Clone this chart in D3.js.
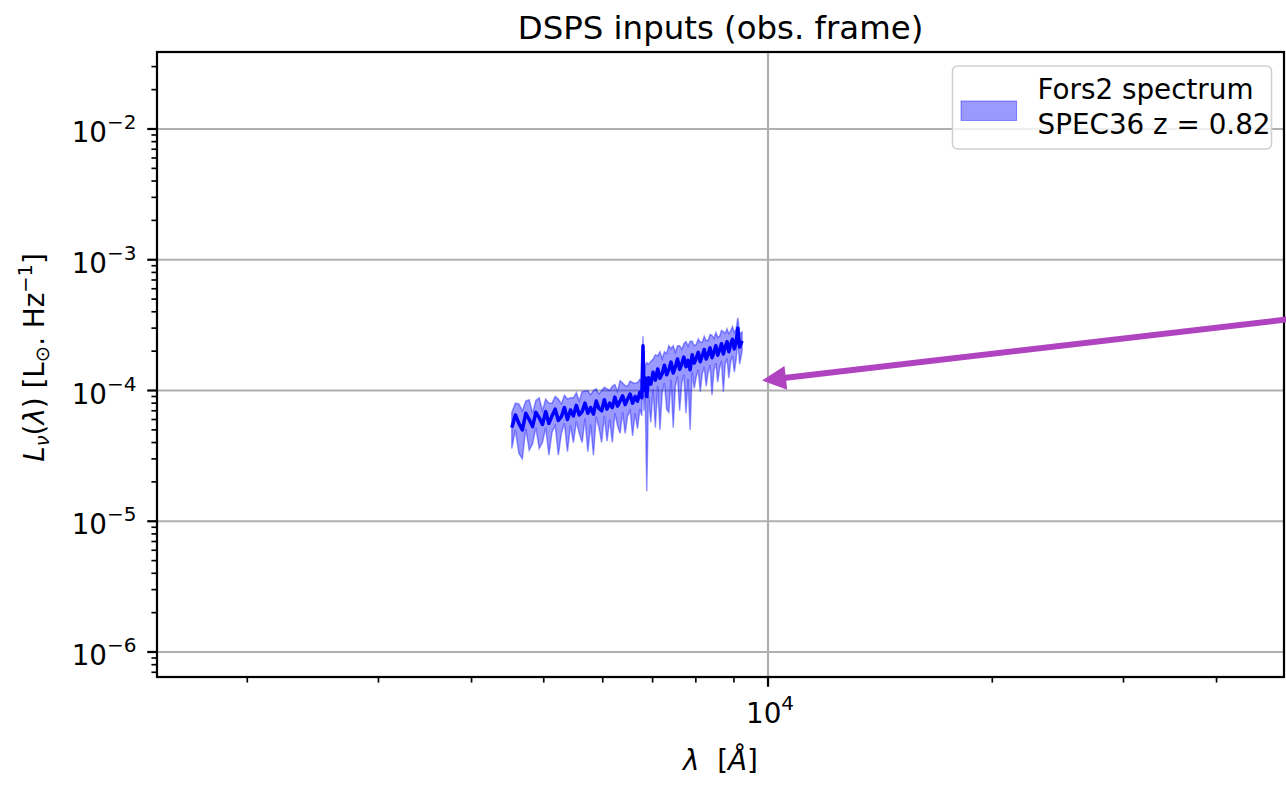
<!DOCTYPE html>
<html>
<head>
<meta charset="utf-8">
<script src="https://cdn.jsdelivr.net/npm/d3@7"></script>
<style>
  body { margin: 0; background: #fff; }
  svg { display: block; font-family: "DejaVu Sans", sans-serif; }
</style>
</head>
<body>
<div id="chart"></div>
<script>
// Fors2 spectrum (obs. frame), wavelength in Angstrom
const wavelengths = [
    4530, 4580, 4630, 4680, 4730, 4780, 4830, 4880, 4930, 4980,
    5030, 5080, 5130, 5180, 5230, 5280, 5330, 5380, 5430, 5480,
    5530, 5580, 5630, 5680, 5730, 5780, 5830, 5880, 5930, 5980,
    6030, 6080, 6130, 6180, 6230, 6280, 6330, 6380, 6430, 6480,
    6530, 6580, 6630, 6680, 6730, 6770, 6795, 6815, 6840, 6875,
    6910, 6960, 7010, 7060, 7110, 7160, 7210, 7260, 7310, 7360,
    7410, 7460, 7510, 7560, 7610, 7660, 7710, 7760, 7810, 7860,
    7910, 7960, 8010, 8060, 8110, 8160, 8210, 8260, 8310, 8360,
    8410, 8460, 8510, 8560, 8610, 8660, 8710, 8760, 8810, 8860,
    8910, 8960, 9010, 9060, 9110, 9160, 9230
];

// flux and 1-sigma, in units of 1e-5 Lsun/Hz
const fluxE5 = [
    5.2, 6.5, 5.6, 5.0, 6.7, 6.0, 5.3, 6.8, 6.2, 5.5,
    6.9, 5.6, 6.4, 7.2, 5.9, 6.3, 7.4, 6.0, 7.1, 6.4,
    7.7, 6.5, 6.9, 8.0, 6.7, 7.4, 6.6, 8.3, 7.3, 7.0,
    8.5, 7.2, 8.0, 7.4, 8.9, 7.6, 8.3, 9.1, 7.8, 8.6,
    9.4, 8.0, 9.0, 8.3, 9.7, 8.8, 22.0, 10.0, 12.5, 9.0,
    12.5, 11.2, 13.8, 12.0, 14.6, 12.4, 13.5, 15.6, 13.2, 14.4,
    16.5, 13.6, 15.2, 17.4, 14.5, 16.0, 18.0, 15.2, 17.0, 14.4,
    18.8, 16.2, 17.6, 19.6, 16.6, 18.4, 20.6, 17.4, 19.0, 21.2,
    17.8, 19.6, 22.0, 18.6, 20.4, 22.8, 19.0, 21.6, 23.6, 19.8,
    22.6, 24.6, 20.8, 23.4, 30.0, 21.5, 24.0
];

const sigmaE5 = [
    1.6, 1.5, 2.3, 2.0, 1.6, 2.5, 1.4, 1.6, 2.6, 1.5,
    1.7, 2.4, 1.6, 1.8, 2.7, 1.6, 1.8, 2.6, 1.7, 2.4,
    1.9, 1.8, 2.9, 1.9, 3.3, 1.9, 3.4, 2.0, 2.1, 3.0,
    2.1, 3.1, 2.0, 3.4, 2.2, 2.2, 3.6, 2.3, 3.1, 2.2,
    2.4, 3.5, 2.3, 3.2, 2.5, 2.4, 4.0, 3.0, 3.0, 7.3,
    3.4, 5.5, 3.6, 6.8, 3.8, 7.4, 4.0, 4.2, 6.0, 7.6,
    4.4, 8.4, 4.4, 4.6, 7.5, 4.6, 4.8, 8.5, 4.8, 9.4,
    5.0, 5.8, 4.9, 5.2, 6.8, 5.0, 5.4, 6.6, 5.2, 5.6,
    8.6, 5.4, 5.8, 7.0, 5.6, 6.0, 9.2, 5.8, 6.0, 7.4,
    6.0, 6.2, 7.0, 6.2, 6.0, 5.6, 4.0
];

const xDomain = [1513, 49270];
const yDomain = [6.44e-7, 3.88e-2];
const xMajorTicks = [1e4];
const yMajorTicks = [1e-6, 1e-5, 1e-4, 1e-3, 1e-2];

const legendLines = ['Fors2 spectrum', 'SPEC36 z = 0.82'];

// annotation arrow (data coords), tail runs off the right of the figure
const arrowFrom = [51800, 3.59e-4];
const arrowTo = [9816, 1.19e-4];

const margin = { top: 52, right: 2, bottom: 109, left: 157 };
const totalW = 1286, totalH = 786;
const width = totalW - margin.left - margin.right;
const height = totalH - margin.top - margin.bottom;

const pt = 2.78; // px per point
const fs = 10 * pt;

const data = wavelengths.map((wl, i) => ({
    wl: wl,
    flux: fluxE5[i] * 1e-5,
    lo: (fluxE5[i] - sigmaE5[i]) * 1e-5,
    hi: (fluxE5[i] + sigmaE5[i]) * 1e-5
}));

const svg = d3.select('#chart').append('svg')
    .attr('width', totalW)
    .attr('height', totalH);

const g = svg.append('g')
    .attr('transform', `translate(${margin.left},${margin.top})`);

const x = d3.scaleLog().domain(xDomain).range([0, width]);
const y = d3.scaleLog().domain(yDomain).range([height, 0]);

g.append('clipPath').attr('id', 'clip')
    .append('rect').attr('width', width).attr('height', height);

// grid (major only)
g.append('g').selectAll('line')
    .data(xMajorTicks)
    .enter().append('line')
    .attr('x1', d => x(d)).attr('x2', d => x(d))
    .attr('y1', 0).attr('y2', height)
    .attr('stroke', '#b0b0b0').attr('stroke-width', 0.8 * pt);

g.append('g').selectAll('line')
    .data(yMajorTicks)
    .enter().append('line')
    .attr('x1', 0).attr('x2', width)
    .attr('y1', d => y(d)).attr('y2', d => y(d))
    .attr('stroke', '#b0b0b0').attr('stroke-width', 0.8 * pt);

// spectrum band + line
const plot = g.append('g').attr('clip-path', 'url(#clip)');

const area = d3.area()
    .x(d => x(d.wl))
    .y0(d => y(Math.max(d.lo, 1e-9)))
    .y1(d => y(d.hi));

plot.append('path')
    .datum(data)
    .attr('d', area)
    .attr('fill', 'rgba(0,0,255,0.4)')
    .attr('stroke', 'rgba(0,0,255,0.4)')
    .attr('stroke-width', 1.5);

const line = d3.line()
    .x(d => x(d.wl))
    .y(d => y(d.flux));

plot.append('path')
    .datum(data)
    .attr('d', line)
    .attr('fill', 'none')
    .attr('stroke', '#0000ff')
    .attr('stroke-width', 3.5)
    .attr('stroke-linejoin', 'round');

// spines
g.append('rect')
    .attr('width', width).attr('height', height)
    .attr('fill', 'none')
    .attr('stroke', '#000').attr('stroke-width', 0.8 * pt);

// ticks
const xMinor = x.ticks().filter(t => !xMajorTicks.includes(t));
const yMinor = y.ticks().filter(t => !yMajorTicks.some(m => Math.abs(m - t) / m < 1e-6));

g.append('g').selectAll('line')
    .data(xMinor)
    .enter().append('line')
    .attr('x1', d => x(d)).attr('x2', d => x(d))
    .attr('y1', height).attr('y2', height + 2 * pt)
    .attr('stroke', '#000').attr('stroke-width', 0.6 * pt);

g.append('g').selectAll('line')
    .data(xMajorTicks)
    .enter().append('line')
    .attr('x1', d => x(d)).attr('x2', d => x(d))
    .attr('y1', height).attr('y2', height + 3.5 * pt)
    .attr('stroke', '#000').attr('stroke-width', 0.8 * pt);

g.append('g').selectAll('line')
    .data(yMinor)
    .enter().append('line')
    .attr('x1', 0).attr('x2', -2 * pt)
    .attr('y1', d => y(d)).attr('y2', d => y(d))
    .attr('stroke', '#000').attr('stroke-width', 0.6 * pt);

g.append('g').selectAll('line')
    .data(yMajorTicks)
    .enter().append('line')
    .attr('x1', 0).attr('x2', -3.5 * pt)
    .attr('y1', d => y(d)).attr('y2', d => y(d))
    .attr('stroke', '#000').attr('stroke-width', 0.8 * pt);

// power-of-ten labels: "10" with a raised exponent
function powerLabel(sel, v) {
    const e = Math.round(Math.log10(v));
    sel.append('tspan').text('10');
    sel.append('tspan')
        .attr('font-size', fs * 0.72)
        .attr('dy', -0.46 * fs)
        .text(String(e).replace('-', '\u2212'));
}

g.append('g').selectAll('text')
    .data(yMajorTicks)
    .enter().append('text')
    .attr('x', -7 * pt - 1)
    .attr('y', d => y(d) + 13)
    .attr('text-anchor', 'end')
    .attr('font-size', fs)
    .attr('fill', '#000')
    .each(function (d) { powerLabel(d3.select(this), d); });

g.append('g').selectAll('text')
    .data(xMajorTicks)
    .enter().append('text')
    .attr('x', d => x(d) + 2)
    .attr('y', height + 46)
    .attr('text-anchor', 'middle')
    .attr('font-size', fs)
    .attr('fill', '#000')
    .each(function (d) { powerLabel(d3.select(this), d); });

// title
svg.append('text')
    .attr('x', margin.left + width / 2)
    .attr('y', 38.5)
    .attr('text-anchor', 'middle')
    .attr('font-size', 32.4)
    .text('DSPS inputs (obs. frame)');

// x label
const xl = svg.append('text')
    .attr('x', margin.left + width / 2)
    .attr('y', 770)
    .attr('text-anchor', 'middle')
    .attr('font-size', fs);
xl.append('tspan').attr('font-style', 'italic').text('λ');
xl.append('tspan').text('\u00a0\u00a0[');
xl.append('tspan').attr('font-style', 'italic').text('Å');
xl.append('tspan').text(']');

// y label
const yl = svg.append('text')
    .attr('transform', `translate(44,${margin.top + height / 2 - 7}) rotate(-90)`)
    .attr('text-anchor', 'middle')
    .attr('font-size', fs);
yl.append('tspan').attr('font-style', 'italic').text('L');
yl.append('tspan').attr('font-style', 'italic').attr('font-size', fs * 0.7).attr('dy', 5).text('ν');
yl.append('tspan').attr('dy', -5).text('(');
yl.append('tspan').attr('font-style', 'italic').text('λ');
yl.append('tspan').text(')\u00a0[L');
yl.append('tspan').attr('font-size', fs * 0.7).attr('dy', 5).text('⊙');
yl.append('tspan').attr('dy', -5).text('.\u00a0Hz');
yl.append('tspan').attr('font-size', fs * 0.7).attr('dy', -12).text('\u22121');
yl.append('tspan').attr('dy', 12).text(']');

// legend, upper right
const legendW = 319, legendH = 83;
const lg = g.append('g')
    .attr('transform', `translate(${width - 12.5 - legendW},14)`);

lg.append('rect')
    .attr('width', legendW).attr('height', legendH)
    .attr('rx', 5)
    .attr('fill', 'rgba(255,255,255,0.8)')
    .attr('stroke', '#d0d0d0').attr('stroke-width', 1.6);

lg.append('rect')
    .attr('x', 8.5).attr('y', 35)
    .attr('width', 2 * fs).attr('height', 0.7 * fs)
    .attr('fill', 'rgba(0,0,255,0.4)')
    .attr('stroke', 'rgba(0,0,255,0.4)').attr('stroke-width', 1);

lg.selectAll('text.lg')
    .data(legendLines)
    .enter().append('text')
    .attr('class', 'lg')
    .attr('x', 85)
    .attr('y', (d, i) => 32.5 + i * 35)
    .attr('font-size', fs)
    .text(d => d);

// purple annotation arrow
const x0 = margin.left + x(arrowFrom[0]), y0 = margin.top + y(arrowFrom[1]);
const x1 = margin.left + x(arrowTo[0]), y1 = margin.top + y(arrowTo[1]);
const ang = Math.atan2(y1 - y0, x1 - x0);
const headLen = 24, headW = 12;
const bx = x1 - headLen * Math.cos(ang), by = y1 - headLen * Math.sin(ang);
const arrowColor = '#b044c0';

svg.append('line')
    .attr('x1', x0).attr('y1', y0)
    .attr('x2', bx + 2 * Math.cos(ang)).attr('y2', by + 2 * Math.sin(ang))
    .attr('stroke', arrowColor).attr('stroke-width', 6);

svg.append('path')
    .attr('d', d3.line()([
        [x1, y1],
        [bx - headW * Math.sin(ang), by + headW * Math.cos(ang)],
        [bx + headW * Math.sin(ang), by - headW * Math.cos(ang)]
    ]) + 'Z')
    .attr('fill', arrowColor);
</script>
</body>
</html>
